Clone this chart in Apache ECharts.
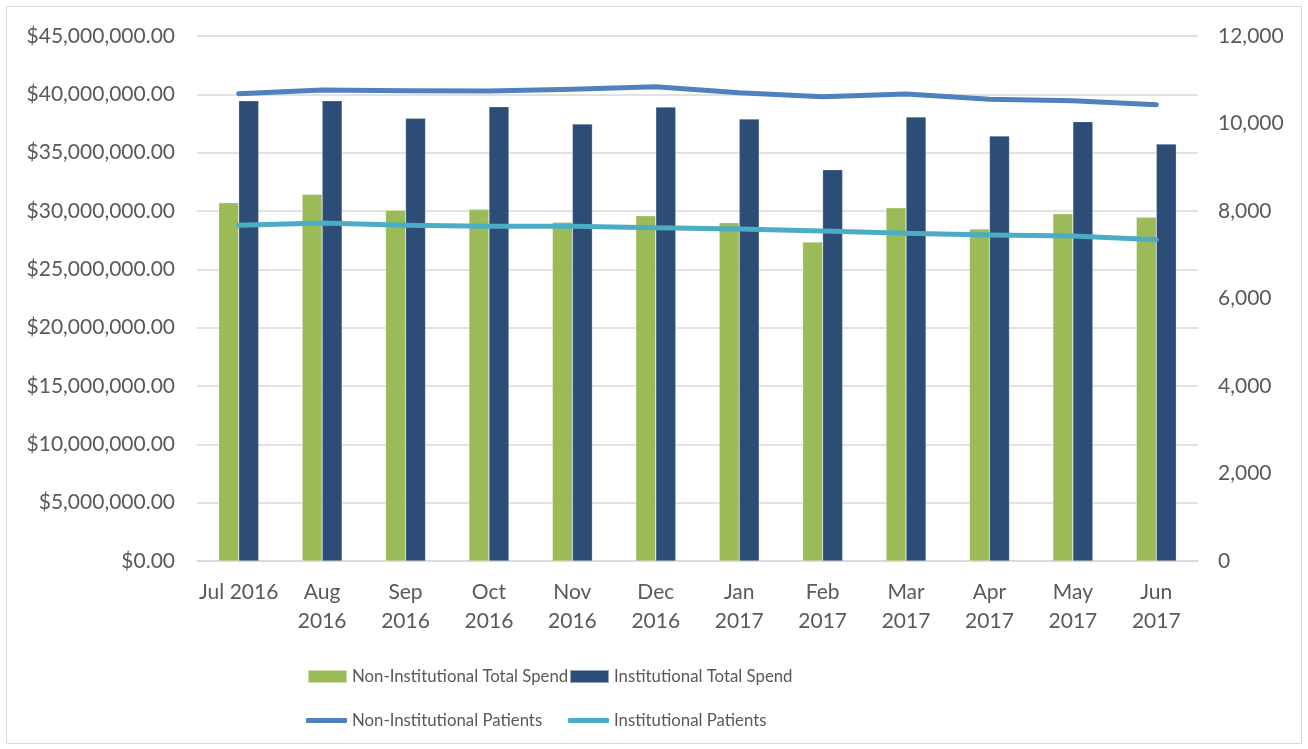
<!DOCTYPE html>
<html><head><meta charset="utf-8">
<script src="https://cdn.jsdelivr.net/npm/echarts@6/dist/echarts.min.js"></script>
<style>html,body{margin:0;padding:0;background:#fff}#c{width:1308px;height:749px}</style>
</head><body><div id="c"></div>
<script>
const categories = ['Jul 2016','Aug 2016','Sep 2016','Oct 2016','Nov 2016','Dec 2016','Jan 2017','Feb 2017','Mar 2017','Apr 2017','May 2017','Jun 2017'];
const nonInstSpend = [30710000,31430000,30060000,30140000,29030000,29600000,29000000,27340000,30280000,28460000,29770000,29460000];
const instSpend = [39450000,39450000,37940000,38940000,37460000,38910000,37890000,33540000,38060000,36430000,37660000,35740000];
const nonInstPatients = [10681,10766,10750,10743,10781,10841,10704,10613,10674,10552,10521,10430];
const instPatients = [7673,7726,7673,7650,7650,7619,7589,7543,7490,7451,7429,7344];
const leftTicks = {min:0,max:45000000,interval:5000000};
const rightTicks = {min:0,max:12000,interval:2000};

const FONT = 'Lato';
const TXT = '#595959';
const chart = echarts.init(document.getElementById('c'));
const legendText = {color:TXT,fontSize:16.8,fontFamily:FONT};
chart.setOption({
  animation:false,
  textStyle:{fontFamily:FONT},
  graphic:[{type:'rect',shape:{x:6.5,y:6.5,width:1295,height:737},style:{fill:'none',stroke:'#D9D9D9',lineWidth:1}}],
  grid:{left:197,right:110,top:36,bottom:188,containLabel:false},
  legend:[
    {data:['Non-Institutional Total Spend'],left:307,top:668,padding:0,itemWidth:39,itemHeight:13,itemGap:0,textStyle:legendText,icon:'rect'},
    {data:['Institutional Total Spend'],left:569,top:668,padding:0,itemWidth:39,itemHeight:13,itemGap:0,textStyle:legendText,icon:'rect'},
    {data:['Non-Institutional Patients'],left:306,top:712,padding:0,itemWidth:41,itemHeight:5,itemGap:0,textStyle:legendText,icon:'roundRect'},
    {data:['Institutional Patients'],left:568,top:712,padding:0,itemWidth:41,itemHeight:5,itemGap:0,textStyle:legendText,icon:'roundRect'}
  ],
  xAxis:{type:'category',data:categories,
    axisLine:{lineStyle:{color:'#D9D9D9',width:1.5}},axisTick:{show:false},
    axisLabel:{color:TXT,fontSize:21,lineHeight:29,margin:17,interval:0,
      formatter:(v,i)=> i===0 ? v : v.replace(' ','\n')}},
  yAxis:[
    {type:'value',min:leftTicks.min,max:leftTicks.max,interval:leftTicks.interval,
     axisLine:{show:false},axisTick:{show:false},
     splitLine:{lineStyle:{color:'#D9D9D9',width:1.5}},
     axisLabel:{color:TXT,fontSize:21,margin:22,
       formatter:v=>'$'+v.toLocaleString('en-US',{minimumFractionDigits:2,maximumFractionDigits:2})}},
    {type:'value',min:rightTicks.min,max:rightTicks.max,interval:rightTicks.interval,
     axisLine:{show:false},axisTick:{show:false},splitLine:{show:false},
     axisLabel:{color:TXT,fontSize:21,margin:20,
       formatter:v=>v.toLocaleString('en-US')}}
  ],
  series:[
    {name:'Non-Institutional Total Spend',type:'bar',data:nonInstSpend,barWidth:20,barGap:'0%',
     itemStyle:{color:'#9BBB59',borderColor:'rgba(255,255,255,0.5)',borderWidth:0.5}},
    {name:'Institutional Total Spend',type:'bar',data:instSpend,barWidth:20,barGap:'0%',
     itemStyle:{color:'#2C4D75',borderColor:'rgba(255,255,255,0.5)',borderWidth:0.5}},
    {name:'Non-Institutional Patients',type:'line',yAxisIndex:1,data:nonInstPatients,symbol:'none',
     lineStyle:{color:'#4F81BD',width:5,cap:'round',join:'round'},itemStyle:{color:'#4F81BD'}},
    {name:'Institutional Patients',type:'line',yAxisIndex:1,data:instPatients,symbol:'none',
     lineStyle:{color:'#4BACC6',width:5,cap:'round',join:'round'},itemStyle:{color:'#4BACC6'}}
  ]
});
</script></body></html>
